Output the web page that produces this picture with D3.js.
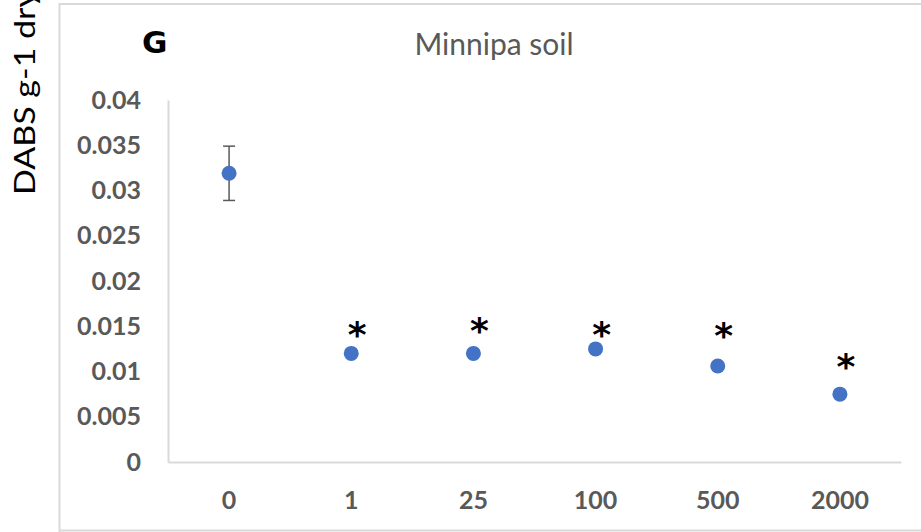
<!DOCTYPE html>
<html>
<head>
<meta charset="utf-8">
<script src="https://cdn.jsdelivr.net/npm/d3@7"></script>
<style>
  body { margin: 0; background: #fff; }
  text { font-family: Lato, "Open Sans", sans-serif; }
</style>
</head>
<body>
<div class="chart"></div>
<script>
////////// DATA //////////

const categories = ["0", "1", "25", "100", "500", "2000"];
const means = [0.0319, 0.0120, 0.0120, 0.0125, 0.0106, 0.0075];
const errors = [0.0030, null, null, null, null, null];
// manually placed significance stars (level in data units)
const starLevels = [null, 0.0146, 0.0150, 0.0146, 0.0145, 0.0111];
const yTicks = [0, 0.005, 0.01, 0.015, 0.02, 0.025, 0.03, 0.035, 0.04];

const data = categories.map((c, i) => ({
  cat: c, value: means[i], err: errors[i], star: starLevels[i]
}));

////////// SETUP //////////

const width = 921, height = 532;
const plot = { left: 168, right: 901, top: 100, bottom: 462 };

const svg = d3.select(".chart").append("svg")
    .attr("width", width)
    .attr("height", height);

// chart frame (cropped)
svg.append("path")
    .attr("d", "M59.5,532 V4 H921 M59.5,530.5 H921")
    .attr("fill", "none")
    .attr("stroke", "#d9d9d9")
    .attr("stroke-width", 2);

const x = d3.scaleBand()
    .domain(categories)
    .range([plot.left, plot.right]);

const y = d3.scaleLinear()
    .domain([0, 0.04])
    .range([plot.bottom, plot.top]);

////////// AXES //////////

const yAxis = svg.append("g")
    .attr("transform", "translate(" + plot.left + ",0)")
    .call(d3.axisLeft(y).tickValues(yTicks).tickSize(0).tickPadding(27)
      .tickFormat(d => d === 0 ? "0" : String(+d.toFixed(3))));

const xAxis = svg.append("g")
    .attr("transform", "translate(0," + plot.bottom + ")")
    .call(d3.axisBottom(x).tickSize(0).tickPadding(27));

[xAxis, yAxis].forEach(a => {
  a.select(".domain").attr("stroke", "#d9d9d9").attr("stroke-width", 2);
  a.selectAll("text")
      .style("font-family", "Lato, sans-serif")
      .style("font-size", "25px")
      .style("font-weight", "bold")
      .attr("fill", "#595959");
});
xAxis.selectAll("text").attr("dy", "0.35em").attr("y", 38);

////////// MARKS //////////

const cx = d => x(d.cat) + x.bandwidth() / 2;

const errData = data.filter(d => d.err != null);
const eb = svg.append("g").attr("stroke", "#595959").attr("stroke-width", 1.5);
eb.selectAll(".stem").data(errData).enter().append("line")
    .attr("x1", cx).attr("x2", cx)
    .attr("y1", d => y(d.value + d.err)).attr("y2", d => y(d.value - d.err));
eb.selectAll(".cap").data(errData.flatMap(d => [
      { c: cx(d), v: d.value + d.err }, { c: cx(d), v: d.value - d.err }]))
  .enter().append("line")
    .attr("x1", d => d.c - 6).attr("x2", d => d.c + 6)
    .attr("y1", d => y(d.v)).attr("y2", d => y(d.v));

svg.append("g").selectAll("circle")
    .data(data).enter().append("circle")
    .attr("cx", cx)
    .attr("cy", d => y(d.value))
    .attr("r", 7.5)
    .attr("fill", "#4472c4");

svg.append("g").selectAll("text")
    .data(data.filter(d => d.star != null)).enter().append("text")
    .attr("x", d => cx(d) + 6)
    .attr("y", d => y(d.star) + 17)
    .attr("text-anchor", "middle")
    .style("font-family", "'DejaVu Sans', sans-serif")
    .style("font-size", "36px")
    .style("font-weight", "bold")
    .attr("fill", "#000")
    .text("*");

////////// LABELS //////////

svg.append("text")
    .attr("x", 494).attr("y", 55)
    .attr("text-anchor", "middle")
    .style("font-size", "30px")
    .attr("fill", "#595959")
    .text("Minnipa soil");

svg.append("text")
    .attr("x", 142).attr("y", 53)
    .style("font-family", "'DejaVu Sans', sans-serif")
    .style("font-size", "31px")
    .style("font-weight", "bold")
    .attr("fill", "#000")
    .text("G");

svg.append("text")
    .attr("transform", "translate(35,195) rotate(-90)")
    .attr("textLength", 205)
    .attr("lengthAdjust", "spacingAndGlyphs")
    .style("font-size", "29px")
    .attr("fill", "#000")
    .text("DABS g-1 dry");
</script>
</body>
</html>
